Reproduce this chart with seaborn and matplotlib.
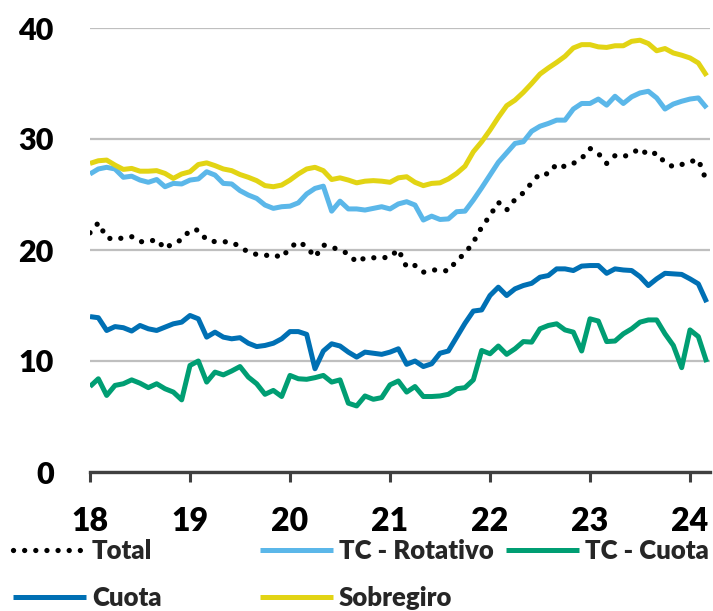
import matplotlib
matplotlib.use("Agg")
import matplotlib.pyplot as plt
import numpy as np
import pandas as pd
import seaborn as sns

# monthly data, Jan 2018 - Mar 2024
months = pd.date_range("2018-01-01", periods=75, freq="MS")

total = [21.55, 22.45, 21.1, 20.95, 21.1, 21.2, 20.75, 20.75, 20.95, 20.1, 20.65, 20.9,
         21.8, 21.8, 20.9, 20.75, 20.75, 20.7, 20.3, 19.8, 19.6, 19.5, 19.6, 19.3,
         20.2, 20.75, 20.3, 19.35, 20.45, 20.25, 20.0, 19.65, 18.9, 19.3, 19.3, 19.3,
         19.35, 20.05, 18.45, 18.6, 18.0, 18.2, 18.2, 18.1, 19.05, 19.7, 20.7, 22.05,
         23.1, 24.3, 23.6, 24.55, 25.15, 26.05, 26.9, 26.85, 27.75, 27.5, 27.8, 28.25,
         29.15, 28.7, 27.8, 28.5, 28.4, 28.7, 29.15, 28.55, 28.75, 27.85, 27.5, 27.7,
         27.95, 28.15, 26.15]
tc_rotativo = [26.85, 27.3, 27.45, 27.3, 26.55, 26.65, 26.3, 26.1, 26.35, 25.7, 26.0, 25.95,
               26.3, 26.4, 27.05, 26.75, 26.0, 25.95, 25.35, 24.95, 24.65, 24.05, 23.75, 23.9,
               23.95, 24.25, 25.05, 25.55, 25.75, 23.5, 24.4, 23.7, 23.7, 23.6, 23.75, 23.9,
               23.7, 24.15, 24.35, 24.05, 22.7, 23.05, 22.75, 22.8, 23.45, 23.5, 24.5, 25.6,
               26.75, 27.9, 28.75, 29.6, 29.75, 30.7, 31.15, 31.4, 31.7, 31.7, 32.7, 33.2,
               33.2, 33.6, 33.05, 33.85, 33.2, 33.8, 34.15, 34.3, 33.7, 32.7, 33.15, 33.4,
               33.6, 33.7, 32.8]
tc_cuota = [7.7, 8.4, 6.9, 7.8, 7.95, 8.3, 8.0, 7.6, 7.95, 7.5, 7.2, 6.5,
            9.6, 10.0, 8.1, 9.0, 8.75, 9.1, 9.5, 8.55, 7.95, 7.0, 7.35, 6.8,
            8.7, 8.4, 8.35, 8.5, 8.7, 8.1, 8.3, 6.2, 5.95, 6.85, 6.55, 6.7,
            7.85, 8.2, 7.2, 7.7, 6.8, 6.8, 6.85, 7.0, 7.5, 7.6, 8.3, 10.95,
            10.65, 11.35, 10.6, 11.1, 11.75, 11.7, 12.9, 13.2, 13.35, 12.8, 12.6, 10.9,
            13.8, 13.6, 11.75, 11.8, 12.45, 12.9, 13.5, 13.7, 13.7, 12.45, 11.4, 9.4,
            12.8, 12.2, 9.9]
cuota = [14.0, 13.9, 12.75, 13.1, 13.0, 12.7, 13.2, 12.9, 12.75, 13.05, 13.35, 13.5,
         14.1, 13.8, 12.15, 12.6, 12.15, 12.0, 12.1, 11.6, 11.3, 11.4, 11.6, 12.0,
         12.65, 12.65, 12.4, 9.3, 10.9, 11.55, 11.35, 10.8, 10.35, 10.8, 10.7, 10.6,
         10.8, 11.1, 9.7, 10.0, 9.5, 9.75, 10.7, 10.9, 12.15, 13.4, 14.5, 14.6,
         15.9, 16.65, 15.9, 16.5, 16.8, 17.0, 17.55, 17.7, 18.3, 18.3, 18.15, 18.55,
         18.6, 18.6, 17.9, 18.3, 18.2, 18.15, 17.6, 16.8, 17.4, 17.9, 17.85, 17.8,
         17.4, 16.95, 15.3]
sobregiro = [27.8, 28.04, 28.1, 27.65, 27.26, 27.35, 27.1, 27.1, 27.15, 26.9, 26.45, 26.85,
             27.05, 27.7, 27.85, 27.6, 27.3, 27.15, 26.8, 26.55, 26.25, 25.8, 25.7, 25.85,
             26.3, 26.85, 27.3, 27.45, 27.15, 26.35, 26.5, 26.3, 26.05, 26.2, 26.25, 26.2,
             26.1, 26.5, 26.6, 26.1, 25.8, 26.0, 26.05, 26.4, 26.9, 27.55, 28.85, 29.75,
             30.8, 31.95, 33.0, 33.5, 34.2, 35.0, 35.85, 36.4, 36.9, 37.45, 38.2, 38.5,
             38.5, 38.3, 38.25, 38.4, 38.4, 38.8, 38.9, 38.6, 37.95, 38.15, 37.75, 37.55,
             37.3, 36.85, 35.7]

year_ticks = [18, 19, 20, 21, 22, 23, 24]

series = {
    "Total": (total, "black"),
    "TC - Rotativo": (tc_rotativo, "#5BB7E9"),
    "TC - Cuota": (tc_cuota, "#009E73"),
    "Cuota": (cuota, "#0070B4"),
    "Sobregiro": (sobregiro, "#E2D414"),
}

xpos = (months.year - 2000) + (months.month - 1) / 12.0

sns.set_theme(style="white")
plt.rcParams["font.family"] = ["Lato", "DejaVu Sans"]

fig = plt.figure(figsize=(7.13, 6.11), dpi=100)
ax = fig.add_axes([90 / 713, 1 - 472 / 611, 620 / 713, 444 / 611])

lines = {}
for name, (vals, col) in series.items():
    df = pd.DataFrame({"x": xpos, "y": vals})
    if name == "Total":
        sns.lineplot(data=df, x="x", y="y", color=col, lw=3.8, ax=ax,
                     linestyle=(0, (0.01, 2.1)), dash_capstyle="round", zorder=3)
    else:
        sns.lineplot(data=df, x="x", y="y", color=col, lw=3.6, ax=ax,
                     solid_capstyle="butt", zorder=2)
    lines[name] = ax.get_lines()[-1]

ax.set_xlim(18, 24.2)
ax.set_ylim(0, 40)
ax.set_yticks([0, 10, 20, 30, 40])
ax.set_xticks(year_ticks)
ax.set_xticklabels([str(t) for t in year_ticks])
ax.grid(axis="y", color="#BFBFBF", lw=1.6)
ax.grid(axis="x", visible=False)
ax.set_xlabel("")
ax.set_ylabel("")
for s in ["left", "right", "top"]:
    ax.spines[s].set_visible(False)
ax.spines["bottom"].set_color("#404040")
ax.spines["bottom"].set_linewidth(2.4)
ax.spines["bottom"].set_zorder(5)
ax.tick_params(axis="x", direction="out", length=7, width=2.2, color="#404040",
               pad=18, labelsize=23, bottom=True)
ax.tick_params(axis="y", length=0, pad=26, labelsize=22)
for lab in ax.get_xticklabels() + ax.get_yticklabels():
    lab.set_fontweight("heavy")
    lab.set_color("black")

# legend items placed one by one (Excel-like grid)
leg_pos = [("Total", 13, 551), ("TC - Rotativo", 260, 551), ("TC - Cuota", 506, 551),
           ("Cuota", 13, 598), ("Sobregiro", 260, 598)]
for name, px, py in leg_pos:
    fig.legend([lines[name]], [name], loc="center left",
               bbox_to_anchor=(px / 713, 1 - py / 611), frameon=False,
               borderpad=0, borderaxespad=0, handlelength=2.85, handletextpad=0.22,
               prop={"size": 18.5, "weight": "heavy"})

plt.savefig("out.png", dpi=100)
plt.close()
